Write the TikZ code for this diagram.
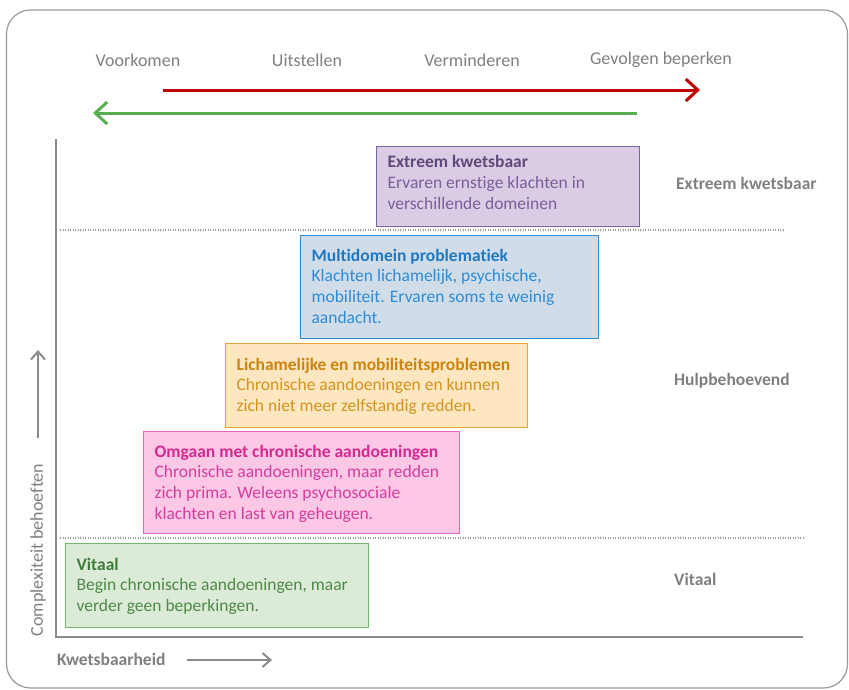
\documentclass[tikz,border=0pt]{standalone}
\usepackage{fontspec}
\setmainfont{Carlito}[Ligatures=NoCommon]
\usetikzlibrary{arrows.meta}
\definecolor{graytxt}{HTML}{7F7F7F}
\definecolor{axisgray}{HTML}{8A8A8A}
\definecolor{framegray}{HTML}{9A9A9A}
\definecolor{redarrow}{HTML}{C00000}
\definecolor{greenarrow}{HTML}{5AAE52}
\definecolor{pfill}{HTML}{D9CCE4}\definecolor{pbord}{HTML}{8064A2}\definecolor{ptitle}{HTML}{5F497A}\definecolor{ptext}{HTML}{7A5F9A}
\definecolor{bfill}{HTML}{D0DDE9}\definecolor{bbord}{HTML}{2E8BD6}\definecolor{btitle}{HTML}{1F78C0}\definecolor{btext}{HTML}{2E8BD6}
\definecolor{ofill}{HTML}{FDE6C0}\definecolor{obord}{HTML}{E6A23C}\definecolor{otitle}{HTML}{CC8410}\definecolor{otext}{HTML}{D4951E}
\definecolor{kfill}{HTML}{FDC8E6}\definecolor{kbord}{HTML}{E364B8}\definecolor{ktitle}{HTML}{D42A90}\definecolor{ktext}{HTML}{D43D9D}
\definecolor{gfill}{HTML}{DCEAD8}\definecolor{gbord}{HTML}{77B86F}\definecolor{gtitle}{HTML}{3E7B3A}\definecolor{gtext}{HTML}{4E8A48}
\tikzset{
  stagebox/.style={draw, line width=1.2pt, inner xsep=11pt, inner ysep=0pt, anchor=north west, font=\fontsize{17.5}{20.7}\selectfont},
  graylabel/.style={text=graytxt, font=\fontsize{18}{20}\selectfont, inner sep=0pt},
  boldlabel/.style={graylabel, font=\fontsize{17.5}{20}\selectfont\bfseries},
  axisline/.style={draw=axisgray, line width=2.5pt},
  sepline/.style={draw=framegray, line width=1.2pt, dash pattern=on 1.2pt off 1.3pt},
  bigarrow/.style={line width=3pt, -{Straight Barb[length=12pt,width=22pt,line width=3pt]}},
  smallarrow/.style={draw=axisgray, line width=2pt, -{Straight Barb[length=8pt,width=14pt,line width=2pt]}}
}
\begin{document}
\begin{tikzpicture}[x=1pt,y=-1pt]
\useasboundingbox (0,0) rectangle (849,689);
\draw[framegray, line width=1.2pt, rounded corners=24pt] (6.5,10) rectangle (847.5,688);

% top labels
\node[graylabel] (voor) at (138,60) {Voorkomen};
\node[graylabel] (uit) at (307,60) {Uitstellen};
\node[graylabel] (verm) at (472,60) {Verminderen};
\node[graylabel] (gev) at (661,60) {Gevolgen beperken};

\coordinate (r1) at (163,90); \coordinate (r2) at (700,90);
\coordinate (g1) at (637,113); \coordinate (g2) at (93,113);
\draw[bigarrow, redarrow] (r1) -- (r2);
\draw[bigarrow, greenarrow] (g1) -- (g2);

% axes
\coordinate (ytop) at (56,139); \coordinate (orig) at (56,637); \coordinate (xend) at (803,637);
\draw[axisline] (ytop) -- (orig) -- (xend);

% separators
\coordinate (s1a) at (60,230); \coordinate (s1b) at (785,230);
\coordinate (s2a) at (60,538); \coordinate (s2b) at (805,538);
\draw[sepline] (s1a) -- (s1b);
\draw[sepline] (s2a) -- (s2b);

% right labels
\node[boldlabel, anchor=west] (lext) at (676,183) {Extreem kwetsbaar};
\node[boldlabel, anchor=west] (lhulp) at (674,381) {Hulpbehoevend};
\node[boldlabel, anchor=west] (lvit) at (674,579) {Vitaal};

% axis labels
\node[graylabel, rotate=90] (ylab) at (38,550) {Complexiteit behoeften};
\coordinate (ya1) at (38,438); \coordinate (ya2) at (38,350);
\draw[smallarrow] (ya1) -- (ya2);
\node[boldlabel, anchor=west] (xlab) at (57,659) {Kwetsbaarheid};
\coordinate (xa1) at (187,660); \coordinate (xa2) at (272,660);
\draw[smallarrow] (xa1) -- (xa2);

% stage boxes
\node[stagebox, draw=pbord, fill=pfill, text=ptext] (ek) at (376,146)
  {\parbox[c][80pt][t]{241pt}{\vspace{8.8pt}{\bfseries\color{ptitle}Extreem kwetsbaar}\\Ervaren ernstige klachten in\\verschillende domeinen}};
\node[stagebox, draw=bbord, fill=bfill, text=btext] (mp) at (300,235)
  {\parbox[c][103pt][t]{276pt}{\vspace{13.3pt}{\bfseries\color{btitle}Multidomein problematiek}\\Klachten lichamelijk, psychische,\\mobiliteit. Ervaren soms te weinig\\aandacht.}};
\node[stagebox, draw=obord, fill=ofill, text=otext] (lm) at (225,343)
  {\parbox[c][84pt][t]{280pt}{\vspace{14.3pt}{\bfseries\color{otitle}Lichamelijke en mobiliteitsproblemen}\\Chronische aandoeningen en kunnen\\zich niet meer zelfstandig redden.}};
\node[stagebox, draw=kbord, fill=kfill, text=ktext] (oc) at (143,431)
  {\parbox[c][102pt][t]{294pt}{\vspace{13.3pt}{\bfseries\color{ktitle}Omgaan met chronische aandoeningen}\\Chronische aandoeningen, maar redden\\zich prima. Weleens psychosociale\\klachten en last van geheugen.}};
\node[stagebox, draw=gbord, fill=gfill, text=gtext] (vi) at (65,543)
  {\parbox[c][84pt][t]{281pt}{\vspace{14.3pt}{\bfseries\color{gtitle}Vitaal}\\Begin chronische aandoeningen, maar\\verder geen beperkingen.}};
\end{tikzpicture}
\end{document}
